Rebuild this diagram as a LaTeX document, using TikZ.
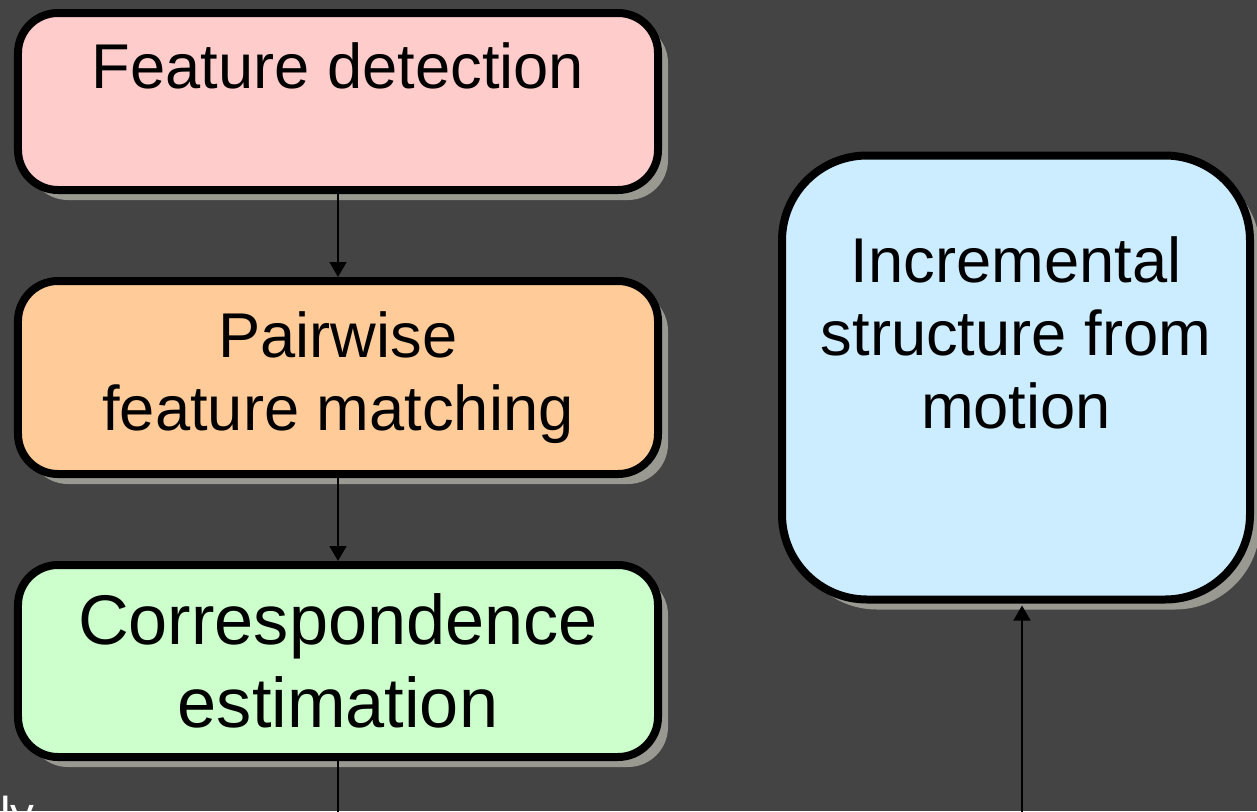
\documentclass[tikz,border=0pt]{standalone}
\usepackage{fontspec}
\setmainfont{Liberation Sans}
\usepackage{tikz}
\usetikzlibrary{positioning}
\usetikzlibrary{shadows}
\usetikzlibrary{arrows.meta}
\definecolor{mybg}{RGB}{68,68,68}
\definecolor{mypink}{RGB}{255,204,204}
\definecolor{myorange}{RGB}{255,204,153}
\definecolor{mygreen}{RGB}{204,255,204}
\definecolor{myblue}{RGB}{204,236,255}
\definecolor{myshadow}{RGB}{153,153,146}
\newcommand\mystage[4][]{%
  \node[stagebox,fill=#2,#1] (#3) {#4};
}

\begin{document}
\begin{tikzpicture}[
node distance=1.82cm,
stagebox/.style={
  rectangle,
  draw=black,
  line width=0.16cm,
  rounded corners=0.8cm,
  minimum width=12.8cm,
  minimum height=3.84cm,
  inner sep=0pt,
  outer sep=0pt,
  align=center,
  font=\fontsize{36}{41.5}\selectfont,
  drop shadow={shadow xshift=0.2cm,shadow yshift=-0.2cm,fill=myshadow,opacity=1}},
lbltext/.style={
  inner sep=0pt,
  align=center,
  font=\fontsize{36}{41.5}\selectfont},
link/.style={
  -{Triangle[width=0.34cm,length=0.3cm]},
  line width=0.03cm,
  shorten >=0.08cm}
]
\fill[mybg] (0,0) rectangle (25.14,-16.22);
\useasboundingbox (0,0) rectangle (25.14,-16.22);

\mystage[at={(6.76,-2.03)},minimum height=3.54cm]{mypink}{fd}{}
\node[lbltext,anchor=base] (fdtext) at ([yshift=-1.5cm]fd.north) {Feature detection};
\mystage[below=of fd,minimum height=3.86cm]{myorange}{pm}{Pairwise\\feature matching}
\mystage[below=of pm,font=\fontsize{40}{47.2}\selectfont]{mygreen}{ce}{Correspondence\\estimation}
\mystage[right=2.48cm of pm,minimum width=9.36cm,minimum height=8.88cm,rounded corners=1.7cm]{myblue}{sfm}{}
\node[lbltext,anchor=north] (sfmtext) at ([yshift=-1.62cm]sfm.north) {Incremental\\structure from\\motion};

\coordinate[below=1.5cm of ce] (ceout);
\coordinate (sfmin) at (20.44,-16.6);
\draw [link] (fd) -- (pm);
\draw [link] (pm) -- (ce);
\draw [line width=0.03cm] (ce) -- (ceout);
\draw [link,shorten >=0.12cm] (sfmin) -- (sfmin |- sfm.south);

\node[anchor=base west,inner sep=0pt,text=white,font=\fontsize{27}{32}\selectfont] (lytext) at (0,-16.6) {ly};
\end{tikzpicture}
\end{document}
